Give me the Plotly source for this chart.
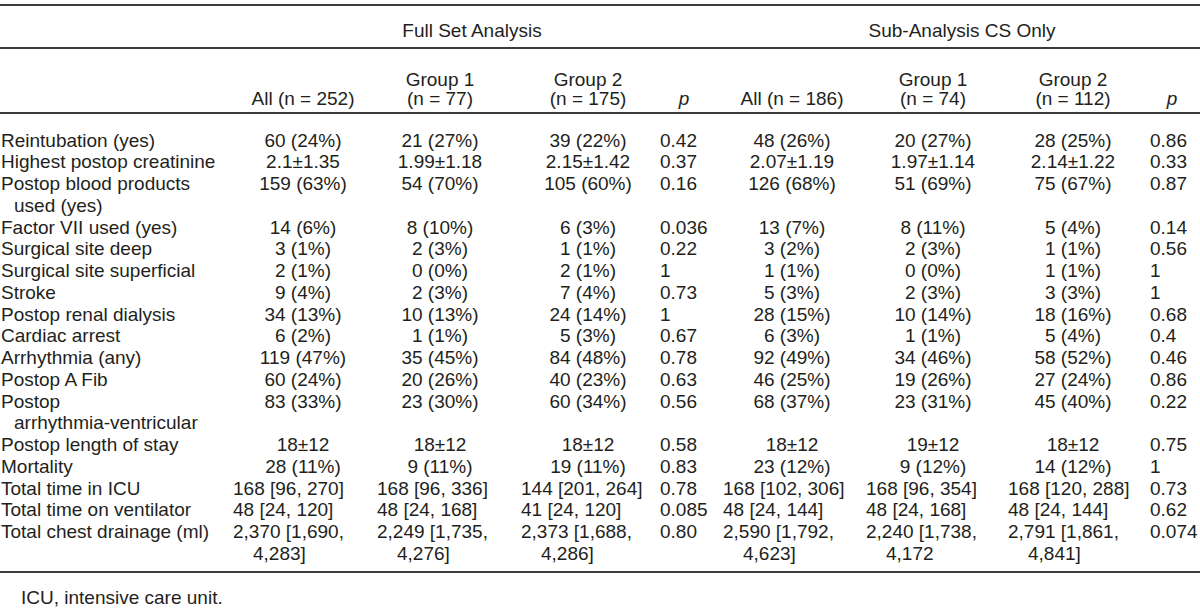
import plotly.graph_objects as go

# ---------------- data ----------------
span_headers = ["Full Set Analysis", "Sub-Analysis CS Only"]
col_headers = ["All (n = 252)", "Group 1\n(n = 77)", "Group 2\n(n = 175)", "<i>p</i>",
               "All (n = 186)", "Group 1\n(n = 74)", "Group 2\n(n = 112)", "<i>p</i>"]

row_labels = ["Reintubation (yes)", "Highest postop creatinine", "Postop blood products\nused (yes)",
              "Factor VII used (yes)", "Surgical site deep", "Surgical site superficial", "Stroke",
              "Postop renal dialysis", "Cardiac arrest", "Arrhythmia (any)", "Postop A Fib",
              "Postop\narrhythmia-ventricular", "Postop length of stay", "Mortality",
              "Total time in ICU", "Total time on ventilator", "Total chest drainage (ml)"]

full_all = ["60 (24%)", "2.1±1.35", "159 (63%)", "14 (6%)", "3 (1%)", "2 (1%)", "9 (4%)", "34 (13%)",
            "6 (2%)", "119 (47%)", "60 (24%)", "83 (33%)", "18±12", "28 (11%)", "168 [96, 270]",
            "48 [24, 120]", "2,370 [1,690,\n4,283]"]
full_g1 = ["21 (27%)", "1.99±1.18", "54 (70%)", "8 (10%)", "2 (3%)", "0 (0%)", "2 (3%)", "10 (13%)",
           "1 (1%)", "35 (45%)", "20 (26%)", "23 (30%)", "18±12", "9 (11%)", "168 [96, 336]",
           "48 [24, 168]", "2,249 [1,735,\n4,276]"]
full_g2 = ["39 (22%)", "2.15±1.42", "105 (60%)", "6 (3%)", "1 (1%)", "2 (1%)", "7 (4%)", "24 (14%)",
           "5 (3%)", "84 (48%)", "40 (23%)", "60 (34%)", "18±12", "19 (11%)", "144 [201, 264]",
           "41 [24, 120]", "2,373 [1,688,\n4,286]"]
full_p = ["0.42", "0.37", "0.16", "0.036", "0.22", "1", "0.73", "1", "0.67", "0.78", "0.63", "0.56",
          "0.58", "0.83", "0.78", "0.085", "0.80"]
sub_all = ["48 (26%)", "2.07±1.19", "126 (68%)", "13 (7%)", "3 (2%)", "1 (1%)", "5 (3%)", "28 (15%)",
           "6 (3%)", "92 (49%)", "46 (25%)", "68 (37%)", "18±12", "23 (12%)", "168 [102, 306]",
           "48 [24, 144]", "2,590 [1,792,\n4,623]"]
sub_g1 = ["20 (27%)", "1.97±1.14", "51 (69%)", "8 (11%)", "2 (3%)", "0 (0%)", "2 (3%)", "10 (14%)",
          "1 (1%)", "34 (46%)", "19 (26%)", "23 (31%)", "19±12", "9 (12%)", "168 [96, 354]",
          "48 [24, 168]", "2,240 [1,738,\n4,172"]
sub_g2 = ["28 (25%)", "2.14±1.22", "75 (67%)", "5 (4%)", "1 (1%)", "1 (1%)", "3 (3%)", "18 (16%)",
          "5 (4%)", "58 (52%)", "27 (24%)", "45 (40%)", "18±12", "14 (12%)", "168 [120, 288]",
          "48 [24, 144]", "2,791 [1,861,\n4,841]"]
sub_p = ["0.86", "0.33", "0.87", "0.14", "0.56", "1", "1", "0.68", "0.4", "0.46", "0.86", "0.22",
         "0.75", "1", "0.73", "0.62", "0.074"]

footnote = "ICU, intensive care unit."

columns = [full_all, full_g1, full_g2, full_p, sub_all, sub_g1, sub_g2, sub_p]

# ---------------- layout constants ----------------
W, H = 1200, 611
FONT = "Liberation Sans, Arial, Helvetica, sans-serif"
FS = 19
INK = "#231f20"
RULE = "#3c3c3c"
LINE_H = 21.74
Y0 = 140          # visual centre of first body line
YOFF = 2          # text anchor correction (cap centre vs anchor)
col_center = [303, 440, 588, 684, 792, 933, 1073, 1172]
col_left = [233, 377, 521, 660, 723, 866, 1008, 1150]
is_p = [False, False, False, True, False, False, False, True]
LABEL_X = 1
LABEL_INDENT = 13
CELL_INDENT = 20

# line index at which each row starts
row_start = []
cur = 0
for i, lab in enumerate(row_labels):
    row_start.append(cur)
    n = max([len(lab.split("\n"))] + [len(c[i].split("\n")) for c in columns])
    cur += n

fig = go.Figure()


def add_text(xs, ys, texts, positions):
    fig.add_trace(go.Scatter(
        x=xs, y=ys, text=texts, mode="text", textposition=positions,
        textfont=dict(family=FONT, size=FS, color=INK),
        hoverinfo="skip", showlegend=False, cliponaxis=False))


# row labels
xs, ys, ts, ps = [], [], [], []
for i, lab in enumerate(row_labels):
    for j, part in enumerate(lab.split("\n")):
        xs.append(LABEL_X + (LABEL_INDENT if j else 0))
        ys.append(Y0 + (row_start[i] + j) * LINE_H + YOFF)
        ts.append(part)
        ps.append("middle right")
add_text(xs, ys, ts, ps)

# body cells
for c, col in enumerate(columns):
    xs, ys, ts, ps = [], [], [], []
    for i, val in enumerate(col):
        parts = val.split("\n")
        left_aligned = is_p[c] or ("[" in val)
        for j, part in enumerate(parts):
            if left_aligned:
                xs.append(col_left[c] + (CELL_INDENT if j else 0))
                ps.append("middle right")
            else:
                xs.append(col_center[c])
                ps.append("middle center")
            ys.append(Y0 + (row_start[i] + j) * LINE_H + YOFF)
            ts.append(part)
    add_text(xs, ys, ts, ps)

# column headers (bottom-aligned)
HDR_BOTTOM = 98
HDR_LINE = 19
xs, ys, ts, ps = [], [], [], []
for c, hd in enumerate(col_headers):
    parts = hd.split("\n")
    for j, part in enumerate(parts):
        xs.append(col_center[c])
        ys.append(HDR_BOTTOM - (len(parts) - 1 - j) * HDR_LINE + YOFF)
        ts.append(part)
        ps.append("middle center")
add_text(xs, ys, ts, ps)

# spanning headers
span_x = [472, 962]
add_text(span_x, [30 + YOFF] * 2, span_headers, ["middle center"] * 2)

# footnote
add_text([21], [597 + YOFF], [footnote], ["middle right"])

# horizontal rules
for y in [5, 48, 113, 572]:
    fig.add_shape(type="line", xref="paper", yref="y", x0=0, x1=1, y0=y, y1=y,
                  line=dict(color=RULE, width=2))

fig.update_layout(
    width=W, height=H, margin=dict(l=0, r=0, t=0, b=0),
    paper_bgcolor="white", plot_bgcolor="white",
    xaxis=dict(range=[0, W], visible=False, fixedrange=True),
    yaxis=dict(range=[H, 0], visible=False, fixedrange=True),
    showlegend=False,
)

fig.write_html(
    "out.html",
    config={"displayModeBar": False},
    post_script="document.body.style.margin='0';document.body.style.overflow='hidden';",
)
